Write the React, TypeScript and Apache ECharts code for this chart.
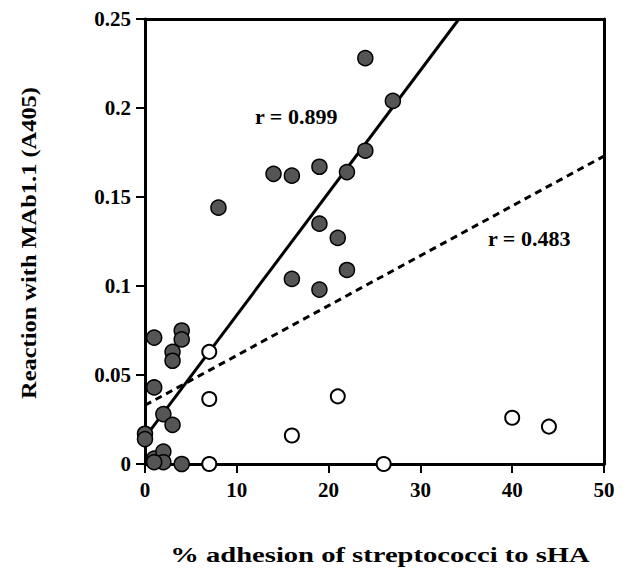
import React, { useEffect, useRef } from "react";
import * as echarts from "echarts";

const filledX = [24, 14, 16, 19, 24, 22, 8, 19, 21, 27, 16, 19, 22, 1, 4, 4, 3, 3, 1, 2, 3, 0, 0, 1, 2, 2, 4, 1];
const filledY = [0.228, 0.163, 0.162, 0.167, 0.176, 0.164, 0.144, 0.135, 0.127, 0.204, 0.104, 0.098, 0.109, 0.071, 0.075, 0.070, 0.063, 0.058, 0.043, 0.028, 0.022, 0.017, 0.014, 0.003, 0.007, 0.001, 0.0, 0.001];
const openX = [7, 7, 7, 16, 21, 26, 40, 44];
const openY = [0.063, 0.0365, 0.0, 0.016, 0.038, 0.0, 0.026, 0.021];
const solidFitX = [0, 34.2];
const solidFitY = [0.015, 0.25];
const dashedFitX = [0, 50];
const dashedFitY = [0.033, 0.173];
const xTicks = [0, 10, 20, 30, 40, 50];
const yTicks = [0, 0.05, 0.1, 0.15, 0.2, 0.25];
const xTitle = "% adhesion of streptococci to sHA";
const yTitle = "Reaction with MAb1.1 (A405)";
const rLabels = ["r = 0.899", "r = 0.483"];

const FONT = "'Liberation Serif', 'Times New Roman', serif";

export default function App() {
  const ref = useRef<HTMLDivElement>(null);
  useEffect(() => {
    if (!ref.current) return;
    const chart = echarts.init(ref.current, undefined, { renderer: "svg" });
    const zip = (xs: number[], ys: number[]) => xs.map((x, i) => [x, ys[i]]);
    const tickLabel = { color: "#000", fontFamily: FONT, fontWeight: "bold", fontSize: 21, margin: 15 };
    chart.setOption({
      animation: false,
      backgroundColor: "#ffffff",
      grid: { left: 145, right: 24, top: 19, bottom: 105, show: false },
      xAxis: [
        {
          type: "value",
          min: xTicks[0],
          max: xTicks[xTicks.length - 1],
          interval: 10,
          position: "bottom",
          axisLine: { show: true, onZero: false, lineStyle: { color: "#000", width: 3 } },
          axisTick: { show: true, length: 9, lineStyle: { color: "#000", width: 2 } },
          axisLabel: tickLabel,
          splitLine: { show: false },
        },
        {
          type: "value",
          min: 0,
          max: 50,
          position: "top",
          axisLine: { show: true, onZero: false, lineStyle: { color: "#000", width: 3 } },
          axisTick: { show: false },
          axisLabel: { show: false },
          splitLine: { show: false },
        },
      ],
      yAxis: [
        {
          type: "value",
          min: yTicks[0],
          max: yTicks[yTicks.length - 1],
          interval: 0.05,
          position: "left",
          axisLine: { show: true, onZero: false, lineStyle: { color: "#000", width: 3 } },
          axisTick: { show: true, length: 9, lineStyle: { color: "#000", width: 2 } },
          axisLabel: { ...tickLabel, margin: 14 },
          splitLine: { show: false },
        },
        {
          type: "value",
          min: 0,
          max: 0.25,
          position: "right",
          axisLine: { show: true, onZero: false, lineStyle: { color: "#000", width: 3 } },
          axisTick: { show: false },
          axisLabel: { show: false },
          splitLine: { show: false },
        },
      ],
      series: [
        {
          type: "line",
          data: zip(solidFitX, solidFitY),
          symbol: "none",
          lineStyle: { color: "#000", width: 3 },
          z: 2,
        },
        {
          type: "line",
          data: zip(dashedFitX, dashedFitY),
          symbol: "none",
          lineStyle: { color: "#000", width: 3, type: [7, 5] },
          z: 2,
        },
        {
          type: "scatter",
          data: zip(filledX, filledY),
          symbol: "circle",
          symbolSize: 15,
          clip: false,
          itemStyle: { color: "#555555", borderColor: "#000", borderWidth: 1.5, opacity: 1 },
          z: 3,
        },
        {
          type: "scatter",
          data: zip(openX, openY),
          symbol: "circle",
          symbolSize: 14,
          clip: false,
          itemStyle: { color: "#fff", borderColor: "#000", borderWidth: 2, opacity: 1 },
          z: 4,
        },
      ],
      graphic: [
        {
          type: "text",
          x: 255,
          y: 116,
          style: { text: rLabels[0], fill: "#000", font: `bold 22px ${FONT}`, align: "left", verticalAlign: "middle" },
        },
        {
          type: "text",
          x: 488,
          y: 238,
          style: { text: rLabels[1], fill: "#000", font: `bold 22px ${FONT}`, align: "left", verticalAlign: "middle" },
        },
        {
          type: "text",
          x: 380,
          y: 555,
          scaleX: 1.3,
          style: { text: xTitle, fill: "#000", font: `bold 22px ${FONT}`, align: "center", verticalAlign: "middle" },
        },
        {
          type: "text",
          x: 28,
          y: 243,
          rotation: Math.PI / 2,
          scaleX: 1.11,
          style: { text: yTitle, fill: "#000", font: `bold 22px ${FONT}`, align: "center", verticalAlign: "middle" },
        },
      ],
    });
    return () => chart.dispose();
  }, []);
  return (
    <div
      ref={ref}
      style={{ position: "fixed", left: 0, top: 0, width: 628, height: 569 }}
    />
  );
}
